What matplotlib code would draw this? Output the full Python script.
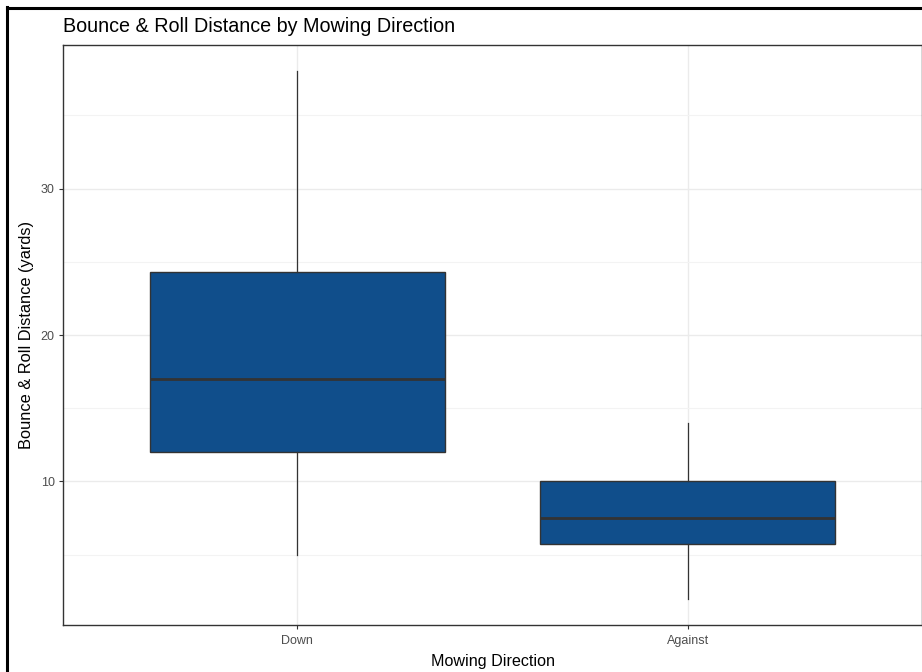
import matplotlib
matplotlib.use("Agg")
import matplotlib.pyplot as plt
from matplotlib.lines import Line2D

# data (yards)
groups = ['Down', 'Against']
whisker_low = [5.0, 2.0]
q1 = [12.0, 5.7]
median = [17.0, 7.5]
q3 = [24.3, 10.0]
whisker_high = [38.0, 14.0]

plt.rcParams['font.family'] = ['Liberation Sans', 'DejaVu Sans']

fig = plt.figure(figsize=(9.22, 6.72), dpi=100)
ax = fig.add_axes([63/922, 1-625/672, 1-63/922, (625-45)/672])

stats = []
for i in range(len(groups)):
    stats.append({'med': median[i], 'q1': q1[i], 'q3': q3[i],
                  'whislo': whisker_low[i], 'whishi': whisker_high[i],
                  'fliers': [], 'label': groups[i]})

ax.bxp(stats, positions=[1, 2], widths=0.755, patch_artist=True, showcaps=False,
       boxprops=dict(facecolor='#104E8B', edgecolor='#333333', linewidth=1.0),
       medianprops=dict(color='#333333', linewidth=2.0),
       whiskerprops=dict(color='#333333', linewidth=0.9),
       zorder=3)

ax.set_xlim(0.4, 2.6)
ax.set_ylim(0.2, 39.8)
ax.set_yticks([10, 20, 30])
ax.set_yticks([5, 15, 25, 35], minor=True)
ax.set_xticks([1, 2])
ax.set_xticklabels(groups)

ax.grid(True, which='major', color='#EBEBEB', linewidth=1.0, zorder=0)
ax.grid(True, which='minor', axis='y', color='#F3F3F3', linewidth=0.8, zorder=0)
ax.set_axisbelow(True)

ax.tick_params(which='major', length=3, color='#333333', labelcolor='#4D4D4D',
               labelsize=9, pad=3)
ax.tick_params(axis='x', which='major', pad=4.5)
ax.tick_params(which='minor', length=0)
for s in ax.spines.values():
    s.set_color('#333333')
    s.set_linewidth(1.0)

ax.set_xlabel('Mowing Direction', fontsize=11.6, color='black', labelpad=4.5)
ax.set_ylabel('Bounce & Roll Distance (yards)', fontsize=11.8, color='black', labelpad=5)
ax.set_title('Bounce & Roll Distance by Mowing Direction', fontsize=14.2, loc='left',
             pad=9)

# screenshot frame (left and top edges)
fig.add_artist(Line2D([6.5/922, 6.5/922], [0, 1-7/672], transform=fig.transFigure,
                      color='black', linewidth=2.2))
fig.add_artist(Line2D([6.5/922, 1], [1-7.5/672, 1-7.5/672], transform=fig.transFigure,
                      color='black', linewidth=2.2))

fig.savefig('out.png', dpi=100)
